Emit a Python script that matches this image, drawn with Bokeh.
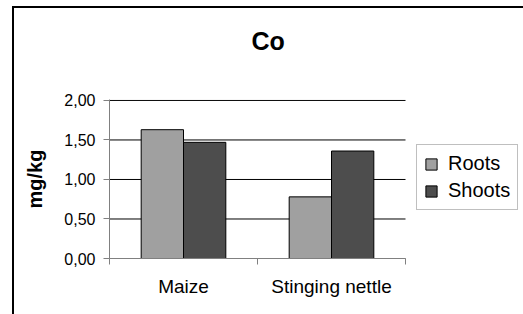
from bokeh.plotting import figure
from bokeh.models import Range1d, FixedTicker, Legend, LegendItem, ColumnDataSource, InlineStyleSheet, Title
from bokeh.embed import file_html
from bokeh.resources import INLINE
import numpy as np

categories = ["Maize", "Stinging nettle"]
roots = [1.63, 0.78]
shoots = [1.47, 1.36]
y_ticks = [0.0, 0.5, 1.0, 1.5, 2.0]
y_tick_labels = ["0,00", "0,50", "1,00", "1,50", "2,00"]

FONT = "Liberation Sans"
BAR_W = 0.286
N = len(categories)
centers = np.arange(N) + 0.5
# frame runs to the right edge so the legend sits inside it; categories fill 296 px of 414 px
XMAX = N * 414 / 296

p = figure(width=523, height=314, output_backend="svg", toolbar_location=None,
           title_location=None,
           x_range=Range1d(0, XMAX), y_range=Range1d(0, 2.012),
           min_border_left=109, min_border_right=0, min_border_top=99, min_border_bottom=56)
p.outline_line_color = None
p.background_fill_color = "white"
p.border_fill_color = "white"

# title, lifted by a spacer title between it and the frame
p.add_layout(Title(text=" ", text_font_size="10px", standoff=27), "above")
p.add_layout(Title(text="Co", align="left", offset=142, text_font=FONT, text_font_size="25px",
                   text_font_style="bold", text_color="black", standoff=10), "above")

# horizontal grid lines over the category area only
p.segment(x0=[0] * len(y_ticks), x1=[N] * len(y_ticks), y0=y_ticks, y1=y_ticks,
          line_color="black", line_width=1)

src = ColumnDataSource(dict(
    xr=centers - BAR_W / 2, xs=centers + BAR_W / 2, roots=roots, shoots=shoots))
r1 = p.vbar(x="xr", top="roots", width=BAR_W, source=src, fill_color="#A0A0A0", line_color="black", line_width=1)
r2 = p.vbar(x="xs", top="shoots", width=BAR_W, source=src, fill_color="#4D4D4D", line_color="black", line_width=1)

# y axis
ya = p.yaxis[0]
ya.ticker = FixedTicker(ticks=y_ticks, minor_ticks=[])
ya.major_label_overrides = {t: l for t, l in zip(y_ticks, y_tick_labels)}
ya.axis_label = "mg/kg"
ya.axis_label_text_font = FONT
ya.axis_label_text_font_style = "bold"
ya.axis_label_text_font_size = "20px"
ya.axis_label_text_color = "black"
ya.axis_label_standoff = 15
ya.major_label_text_font = FONT
ya.major_label_text_font_size = "16px"
ya.major_label_text_color = "black"
ya.major_label_standoff = 8
ya.major_tick_out = 6
ya.major_tick_in = 0
ya.axis_line_color = "#808080"
ya.major_tick_line_color = "#808080"

# x axis
xa = p.xaxis[0]
xa.bounds = (0, N)
xa.ticker = FixedTicker(ticks=list(centers), minor_ticks=list(range(N + 1)))
xa.major_label_overrides = {float(c): n for c, n in zip(centers, categories)}
xa.major_label_text_font = FONT
xa.major_label_text_font_size = "19px"
xa.major_label_text_color = "black"
xa.major_label_standoff = 11
xa.major_tick_out = 0
xa.major_tick_in = 0
xa.minor_tick_out = 6
xa.minor_tick_in = 0
xa.axis_line_color = "#808080"
xa.minor_tick_line_color = "#808080"

p.xgrid.visible = False
p.ygrid.visible = False

legend = Legend(items=[LegendItem(label="Roots", renderers=[r1]),
                       LegendItem(label="Shoots", renderers=[r2])],
                location=(307, 48), orientation="vertical")
legend.label_text_font = FONT
legend.label_text_font_size = "20px"
legend.label_text_color = "black"
legend.glyph_width = 14
legend.glyph_height = 14
legend.label_standoff = 10
legend.padding = 7
legend.spacing = 4
legend.label_height = 23
legend.border_line_color = "#808080"
legend.border_line_width = 1
legend.background_fill_alpha = 1
legend.margin = 0
p.add_layout(legend, "center")

# outer chart border (left and top edges, as in the reference)
p.stylesheets = [InlineStyleSheet(css="""
:host::after { content: ''; position: absolute; left: 12px; top: 6px; right: 0; bottom: 0;
  border-left: 2px solid black; border-top: 2px solid black; pointer-events: none; z-index: 100; }
""")]

open("out.html", "w").write(file_html(p, INLINE))
